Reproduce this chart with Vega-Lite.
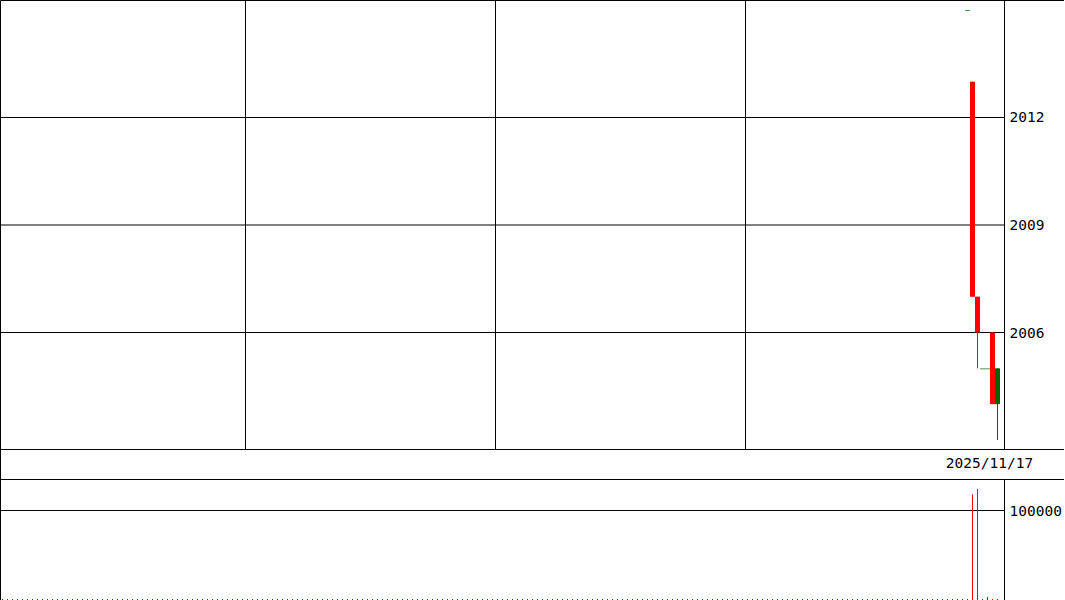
{
  "$schema": "https://vega.github.io/schema/vega-lite/v6.json",
  "width": 1064,
  "height": 600,
  "autosize": "none",
  "padding": 0,
  "background": "white",
  "config": {
    "view": {"stroke": "black", "strokeWidth": 1},
    "text": {"font": "DejaVu Sans Mono", "fontSize": 14.5, "color": "black", "baseline": "middle"}
  },
  "data": {
    "values": [
      {"i":0,"v":1100},{"i":1,"v":1100},{"i":2,"v":1100},{"i":3,"v":1100},{"i":4,"v":1100},{"i":5,"v":1100},{"i":6,"v":1100},{"i":7,"v":1100},{"i":8,"v":1100},{"i":9,"v":1100},
      {"i":10,"v":1100},{"i":11,"v":1100},{"i":12,"v":1100},{"i":13,"v":1100},{"i":14,"v":1100},{"i":15,"v":1100},{"i":16,"v":1100},{"i":17,"v":1100},{"i":18,"v":1100},{"i":19,"v":1100},
      {"i":20,"v":1100},{"i":21,"v":1100},{"i":22,"v":1100},{"i":23,"v":1100},{"i":24,"v":1100},{"i":25,"v":1100},{"i":26,"v":1100},{"i":27,"v":1100},{"i":28,"v":1100},{"i":29,"v":1100},
      {"i":30,"v":1100},{"i":31,"v":1100},{"i":32,"v":1100},{"i":33,"v":1100},{"i":34,"v":1100},{"i":35,"v":1100},{"i":36,"v":1100},{"i":37,"v":1100},{"i":38,"v":1100},{"i":39,"v":1100},
      {"i":40,"v":1100},{"i":41,"v":1100},{"i":42,"v":1100},{"i":43,"v":1100},{"i":44,"v":1100},{"i":45,"v":1100},{"i":46,"v":1100},{"i":47,"v":1100},{"i":48,"v":1100},{"i":49,"v":1100},
      {"i":50,"v":1100},{"i":51,"v":1100},{"i":52,"v":1100},{"i":53,"v":1100},{"i":54,"v":1100},{"i":55,"v":1100},{"i":56,"v":1100},{"i":57,"v":1100},{"i":58,"v":1100},{"i":59,"v":1100},
      {"i":60,"v":1100},{"i":61,"v":1100},{"i":62,"v":1100},{"i":63,"v":1100},{"i":64,"v":1100},{"i":65,"v":1100},{"i":66,"v":1100},{"i":67,"v":1100},{"i":68,"v":1100},{"i":69,"v":1100},
      {"i":70,"v":1100},{"i":71,"v":1100},{"i":72,"v":1100},{"i":73,"v":1100},{"i":74,"v":1100},{"i":75,"v":1100},{"i":76,"v":1100},{"i":77,"v":1100},{"i":78,"v":1100},{"i":79,"v":1100},
      {"i":80,"v":1100},{"i":81,"v":1100},{"i":82,"v":1100},{"i":83,"v":1100},{"i":84,"v":1100},{"i":85,"v":1100},{"i":86,"v":1100},{"i":87,"v":1100},{"i":88,"v":1100},{"i":89,"v":1100},
      {"i":90,"v":1100},{"i":91,"v":1100},{"i":92,"v":1100},{"i":93,"v":1100},{"i":94,"v":1100},{"i":95,"v":1100},{"i":96,"v":1100},{"i":97,"v":1100},{"i":98,"v":1100},{"i":99,"v":1100},
      {"i":100,"v":1100},{"i":101,"v":1100},{"i":102,"v":1100},{"i":103,"v":1100},{"i":104,"v":1100},{"i":105,"v":1100},{"i":106,"v":1100},{"i":107,"v":1100},{"i":108,"v":1100},{"i":109,"v":1100},
      {"i":110,"v":1100},{"i":111,"v":1100},{"i":112,"v":1100},{"i":113,"v":1100},{"i":114,"v":1100},{"i":115,"v":1100},{"i":116,"v":1100},{"i":117,"v":1100},{"i":118,"v":1100},{"i":119,"v":1100},
      {"i":120,"v":1100},{"i":121,"v":1100},{"i":122,"v":1100},{"i":123,"v":1100},{"i":124,"v":1100},{"i":125,"v":1100},{"i":126,"v":1100},{"i":127,"v":1100},{"i":128,"v":1100},{"i":129,"v":1100},
      {"i":130,"v":1100},{"i":131,"v":1100},{"i":132,"v":1100},{"i":133,"v":1100},{"i":134,"v":1100},{"i":135,"v":1100},{"i":136,"v":1100},{"i":137,"v":1100},{"i":138,"v":1100},{"i":139,"v":1100},
      {"i":140,"v":1100},{"i":141,"v":1100},{"i":142,"v":1100},{"i":143,"v":1100},{"i":144,"v":1100},{"i":145,"v":1100},{"i":146,"v":1100},{"i":147,"v":1100},{"i":148,"v":1100},{"i":149,"v":1100},
      {"i":150,"v":1100},{"i":151,"v":1100},{"i":152,"v":1100},{"i":153,"v":1100},{"i":154,"v":1100},{"i":155,"v":1100},{"i":156,"v":1100},{"i":157,"v":1100},{"i":158,"v":1100},{"i":159,"v":1100},
      {"i":160,"v":1100},{"i":161,"v":1100},{"i":162,"v":1100},{"i":163,"v":1100},{"i":164,"v":1100},{"i":165,"v":1100},{"i":166,"v":1100},{"i":167,"v":1100},{"i":168,"v":1100},{"i":169,"v":1100},
      {"i":170,"v":1100},{"i":171,"v":1100},{"i":172,"v":1100},{"i":173,"v":1100},{"i":174,"v":1100},{"i":175,"v":1100},{"i":176,"v":1100},{"i":177,"v":1100},{"i":178,"v":1100},{"i":179,"v":1100},
      {"i":180,"v":1100},{"i":181,"v":1100},{"i":182,"v":1100},{"i":183,"v":1100},{"i":184,"v":1100},{"i":185,"v":1100},{"i":186,"v":1100},{"i":187,"v":1100},{"i":188,"v":1100},{"i":189,"v":1100},
      {"i":190,"v":1100},{"i":191,"v":1100},{"i":192,"v":1100},
      {"i":193,"o":2015,"h":2015,"l":2015,"c":2015,"v":1100},
      {"i":194,"o":2013,"h":2013,"l":2007,"c":2007,"v":118000},
      {"i":195,"o":2007,"h":2007,"l":2005,"c":2006,"v":124000},
      {"i":196,"o":2005,"h":2005,"l":2005,"c":2005,"v":1100},
      {"i":197,"o":2005,"h":2005,"l":2005,"c":2005,"v":3300},
      {"i":198,"o":2006,"h":2006,"l":2004,"c":2004,"v":1100},
      {"i":199,"o":2004,"h":2005,"l":2003,"c":2005,"v":1100}
    ]
  },
  "resolve": {"scale": {"y": "independent"}},
  "layer": [
    {
      "layer": [
        {
          "data": {"values": [{"g": 48.6}, {"g": 98.6}, {"g": 148.6}, {"g": 200.4}]},
          "mark": {"type": "rule", "color": "black", "strokeWidth": 1},
          "encoding": {
            "x": {"field": "g", "type": "quantitative", "scale": {"domain": [-0.5, 200.3], "range": [0, 1004], "padding": 0, "zero": false, "nice": false}, "axis": null},
            "y": {"datum": 2002.735, "type": "quantitative", "scale": {"domain": [2002.735, 2015.279], "range": [449.5, 0], "zero": false, "nice": false}, "axis": null},
            "y2": {"datum": 2015.279}
          }
        },
        {
          "data": {"values": [{"p": 2006}, {"p": 2009}, {"p": 2012}]},
          "mark": {"type": "rule", "color": "black", "strokeWidth": 1},
          "encoding": {
            "x": {"datum": -0.5, "type": "quantitative", "scale": {"domain": [-0.5, 200.3], "range": [0, 1004], "padding": 0, "zero": false, "nice": false}, "axis": null},
            "x2": {"datum": 200.3},
            "y": {"field": "p", "type": "quantitative", "scale": {"domain": [2002.735, 2015.279], "range": [449.5, 0], "zero": false, "nice": false}, "axis": null}
          }
        },
        {
          "data": {"values": [{"p": 2006}, {"p": 2009}, {"p": 2012}]},
          "mark": {"type": "text", "align": "left", "dx": 5, "dy": 1},
          "encoding": {
            "x": {"datum": 200.4, "type": "quantitative", "scale": {"domain": [-0.5, 200.3], "range": [0, 1004], "padding": 0, "zero": false, "nice": false}, "axis": null},
            "y": {"field": "p", "type": "quantitative", "scale": {"domain": [2002.735, 2015.279], "range": [449.5, 0], "zero": false, "nice": false}, "axis": null},
            "text": {"field": "p", "type": "quantitative", "format": "d"}
          }
        },
        {
          "mark": {"type": "rule", "color": "black", "strokeWidth": 1},
          "encoding": {
            "y": {"datum": 2002.735, "type": "quantitative", "scale": {"domain": [2002.735, 2015.279], "range": [449.5, 0], "zero": false, "nice": false}, "axis": null}
          }
        },
        {
          "transform": [{"filter": "datum.h != null"}],
          "mark": {"type": "rule", "strokeWidth": 1},
          "encoding": {
            "x": {"field": "i", "type": "quantitative", "scale": {"domain": [-0.5, 200.3], "range": [0, 1004], "padding": 0, "zero": false, "nice": false}, "axis": null},
            "y": {"field": "l", "type": "quantitative", "scale": {"domain": [2002.735, 2015.279], "range": [449.5, 0], "zero": false, "nice": false}, "axis": null},
            "y2": {"field": "h"},
            "color": {"condition": {"test": "datum.c < datum.o", "value": "#ff0000"}, "value": "#006400"}
          }
        },
        {
          "transform": [{"filter": "datum.o != null && datum.o != datum.c"}],
          "mark": {"type": "bar", "width": 5},
          "encoding": {
            "x": {"field": "i", "type": "quantitative", "scale": {"domain": [-0.5, 200.3], "range": [0, 1004], "padding": 0, "zero": false, "nice": false}, "axis": null},
            "y": {"field": "o", "type": "quantitative", "scale": {"domain": [2002.735, 2015.279], "range": [449.5, 0], "zero": false, "nice": false}, "axis": null},
            "y2": {"field": "c"},
            "color": {"condition": {"test": "datum.c < datum.o", "value": "#ff0000"}, "value": "#006400"}
          }
        },
        {
          "transform": [{"filter": "datum.o != null && datum.o == datum.c"}],
          "mark": {"type": "tick", "orient": "horizontal", "size": 5, "thickness": 1, "yOffset": 0.5},
          "encoding": {
            "x": {"field": "i", "type": "quantitative", "scale": {"domain": [-0.5, 200.3], "range": [0, 1004], "padding": 0, "zero": false, "nice": false}, "axis": null},
            "y": {"field": "o", "type": "quantitative", "scale": {"domain": [2002.735, 2015.279], "range": [449.5, 0], "zero": false, "nice": false}, "axis": null},
            "color": {"condition": {"test": "datum.c < datum.o", "value": "#ff0000"}, "value": "#006400"}
          }
        },
        {
          "data": {"values": [{"i": 199, "date": "2025/11/17"}]},
          "mark": {"type": "text", "align": "center", "dx": -8},
          "encoding": {
            "x": {"field": "i", "type": "quantitative", "scale": {"domain": [-0.5, 200.3], "range": [0, 1004], "padding": 0, "zero": false, "nice": false}, "axis": null},
            "y": {"datum": 2002.32, "type": "quantitative", "scale": {"domain": [2002.735, 2015.279], "range": [449.5, 0], "zero": false, "nice": false}, "axis": null},
            "text": {"field": "date"}
          }
        }
      ]
    },
    {
      "layer": [
        {
          "data": {"values": [{"q": 100000}]},
          "mark": {"type": "rule", "color": "black", "strokeWidth": 1},
          "encoding": {
            "x": {"datum": -0.5, "type": "quantitative", "scale": {"domain": [-0.5, 200.3], "range": [0, 1004], "padding": 0, "zero": false, "nice": false}, "axis": null},
            "x2": {"datum": 200.3},
            "y": {"field": "q", "type": "quantitative", "scale": {"domain": [0, 134637], "range": [600, 479.5], "zero": false, "nice": false}, "axis": null}
          }
        },
        {
          "data": {"values": [{"q": 100000}]},
          "mark": {"type": "text", "align": "left", "dx": 5, "dy": 1},
          "encoding": {
            "x": {"datum": 200.4, "type": "quantitative", "scale": {"domain": [-0.5, 200.3], "range": [0, 1004], "padding": 0, "zero": false, "nice": false}, "axis": null},
            "y": {"field": "q", "type": "quantitative", "scale": {"domain": [0, 134637], "range": [600, 479.5], "zero": false, "nice": false}, "axis": null},
            "text": {"field": "q", "type": "quantitative", "format": "d"}
          }
        },
        {
          "mark": {"type": "rule", "color": "black", "strokeWidth": 1},
          "encoding": {
            "x": {"datum": 200.4, "type": "quantitative", "scale": {"domain": [-0.5, 200.3], "range": [0, 1004], "padding": 0, "zero": false, "nice": false}, "axis": null},
            "y": {"datum": 0, "type": "quantitative", "scale": {"domain": [0, 134637], "range": [600, 479.5], "zero": false, "nice": false}, "axis": null},
            "y2": {"datum": 134637}
          }
        },
        {
          "mark": {"type": "rule", "color": "black", "strokeWidth": 1},
          "encoding": {
            "y": {"datum": 134637, "type": "quantitative", "scale": {"domain": [0, 134637], "range": [600, 479.5], "zero": false, "nice": false}, "axis": null}
          }
        },
        {
          "mark": {"type": "rule", "strokeWidth": 1},
          "encoding": {
            "x": {"field": "i", "type": "quantitative", "scale": {"domain": [-0.5, 200.3], "range": [0, 1004], "padding": 0, "zero": false, "nice": false}, "axis": null},
            "y": {"field": "v", "type": "quantitative", "scale": {"domain": [0, 134637], "range": [600, 479.5], "zero": false, "nice": false}, "axis": null},
            "y2": {"datum": 0},
            "color": {"condition": {"test": "datum.c < datum.o", "value": "#ff0000"}, "value": "#006400"}
          }
        }
      ]
    }
  ]
}
